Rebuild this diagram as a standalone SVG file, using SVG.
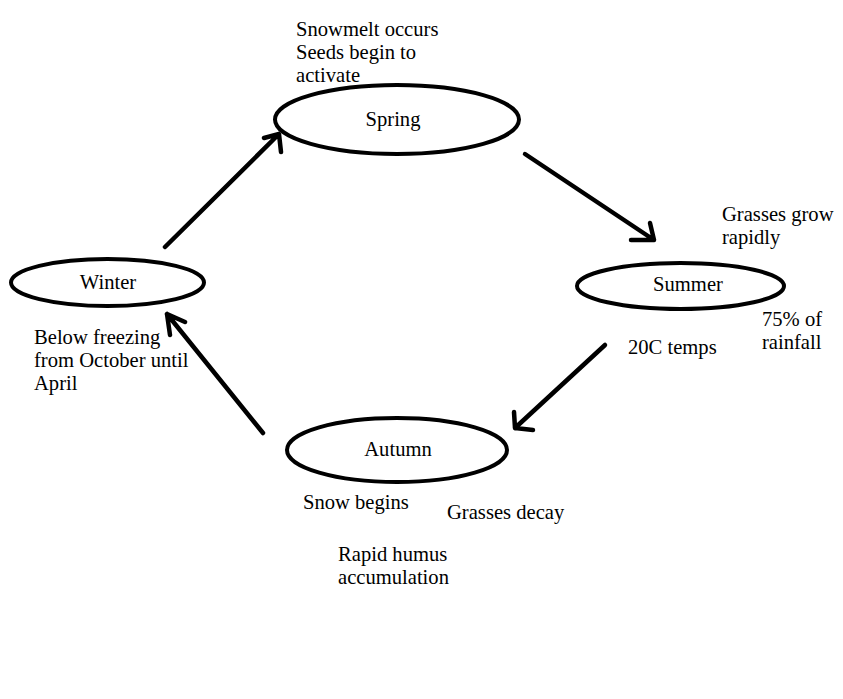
<svg xmlns="http://www.w3.org/2000/svg" width="843" height="699" viewBox="0 0 843 699">
<style>
.n{fill:none;stroke:#000;stroke-width:4}
.c{fill:none;stroke:#000;stroke-width:4.5;stroke-linecap:round;stroke-linejoin:round}
text{font-family:"Liberation Serif","Times New Roman",serif;font-size:20.6px;fill:#000}
.m{text-anchor:middle}
</style>
<rect width="843" height="699" fill="#fff"/>
<g id="spring"><ellipse class="n" cx="397" cy="119.5" rx="122" ry="34.5"/><text class="m" x="393" y="126">Spring</text></g>
<g id="winter"><ellipse class="n" cx="107.5" cy="282.5" rx="96.5" ry="23.5"/><text class="m" x="108" y="289">Winter</text></g>
<g id="summer"><ellipse class="n" cx="680.5" cy="286" rx="103.5" ry="23"/><text class="m" x="688" y="291">Summer</text></g>
<g id="autumn"><ellipse class="n" cx="397" cy="450" rx="110" ry="32"/><text class="m" x="398" y="456">Autumn</text></g>
<g id="connectors">
<path class="c" d="M165,247 L279,134 M264,138 L279,134 L281,152"/>
<path class="c" d="M525,154 L654,240 M631,240 L654,240 L650,223"/>
<path class="c" d="M605,345 L515,428 M514,412 L515,428 L533,430"/>
<path class="c" d="M263,433 L167,314 M170,335 L167,314 L185,322"/>
</g>
<g id="labels">
<text x="296" y="36">Snowmelt occurs</text>
<text x="296" y="59">Seeds begin to</text>
<text x="296" y="82">activate</text>
<text x="722" y="221">Grasses grow</text>
<text x="722" y="244">rapidly</text>
<text x="762" y="326">75% of</text>
<text x="762" y="349">rainfall</text>
<text x="628" y="354">20C temps</text>
<text x="34" y="344">Below freezing</text>
<text x="34" y="367">from October until</text>
<text x="34" y="390">April</text>
<text x="303" y="509">Snow begins</text>
<text x="447" y="519">Grasses decay</text>
<text x="338" y="561">Rapid humus</text>
<text x="338" y="584">accumulation</text>
</g>
</svg>
